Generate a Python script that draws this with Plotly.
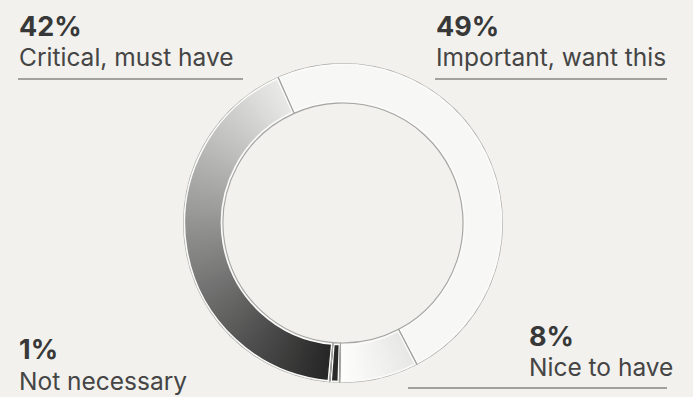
import numpy as np
import plotly.graph_objects as go

# Survey results, listed clockwise around the ring
categories = ["Important, want this", "Nice to have", "Not necessary", "Critical, must have"]
values = [49, 8, 1, 42]
value_labels = ["49%", "8%", "1%", "42%"]

W, H = 693, 397
BG = "#f2f1ed"
INNER, OUTER = 120, 160

# cumulative positions in degrees
deg = np.array(values, dtype=float) * 3.6
ends = np.cumsum(deg)
starts = ends - deg
centers = starts + deg / 2


def hex_to_rgb(h):
    h = h.lstrip("#")
    return np.array([int(h[i:i + 2], 16) for i in (0, 2, 4)], dtype=float)


def ramp(c0, c1, n):
    a, b = hex_to_rgb(c0), hex_to_rgb(c1)
    out = []
    for t in np.linspace(0, 1, n):
        r, g, bb = (a + (b - a) * t).round().astype(int)
        out.append(f"rgb({r},{g},{bb})")
    return out


# fill style for each segment: (start colour, end colour) along the clockwise direction
fills = {
    "Important, want this": ("#f7f7f5", "#f7f7f5"),
    "Nice to have": ("#e7e7e5", "#fdfdfc"),
    "Not necessary": ("#2a2a2a", "#2a2a2a"),
    "Critical, must have": ("#262626", "#e8e8e6"),
}

fig = go.Figure()
pad_r = 1.6        # radial inset of the fill inside the outline
pad_a = 0.55       # angular inset (degrees)

for cat, s, d in zip(categories, starts, deg):
    c0, c1 = fills[cat]
    n = 1 if c0 == c1 else max(int(d / 0.8), 8)
    a0, a1 = s + pad_a, s + d - pad_a
    step = (a1 - a0) / n
    th = a0 + step * (np.arange(n) + 0.5)
    cols = ramp(c0, c1, n)
    # slight overlap between the thin wedges hides antialiasing seams
    wid = np.full(n, step * 1.6)
    if n > 1:
        wid[0] = wid[-1] = step
        th[0], th[-1] = a0 + step / 2, a1 - step / 2
    fig.add_trace(go.Barpolar(
        theta=th, r=[OUTER - INNER - 2 * pad_r] * n, base=INNER + pad_r,
        width=wid,
        marker=dict(color=cols, line=dict(width=0)),
        hoverinfo="skip", showlegend=False,
    ))

# white inner rim of each segment
fig.add_trace(go.Barpolar(
    theta=centers, r=[OUTER - INNER - 2 * pad_r] * 4, base=INNER + pad_r,
    width=deg - 2 * pad_a,
    marker=dict(color="rgba(0,0,0,0)", line=dict(color="#fbfbfa", width=1.4)),
    hoverinfo="skip", showlegend=False,
))
# grey outline of each segment
fig.add_trace(go.Barpolar(
    theta=centers, r=[OUTER - INNER] * 4, base=INNER,
    width=deg,
    marker=dict(color="rgba(0,0,0,0)", line=dict(color="#a4a4a2", width=1.1)),
    hoverinfo="skip", showlegend=False,
))

cx, cy = 343, 223
fig.update_layout(
    width=W, height=H, autosize=False,
    margin=dict(l=0, r=0, t=0, b=0),
    paper_bgcolor=BG, plot_bgcolor=BG,
    showlegend=False,
    polar=dict(
        domain=dict(x=[(cx - OUTER) / W, (cx + OUTER) / W],
                    y=[1 - (cy + OUTER) / H, 1 - (cy - OUTER) / H]),
        bgcolor="rgba(0,0,0,0)",
        radialaxis=dict(range=[0, OUTER], visible=False),
        angularaxis=dict(visible=False, direction="clockwise", rotation=114),
        barmode="overlay",
    ),
)


def py(y):
    return 1 - y / H


# label blocks: (index, x, y of value, y of name, underline)
blocks = [
    (3, 17, 26, 57, (18, 243, 79)),
    (0, 434, 26, 57, (435, 667, 79)),
    (2, 17, 349, 381, None),
    (1, 527, 336, 367, (408, 667, 388)),
]
for i, x, yv, yn, line in blocks:
    fig.add_annotation(x=x / W, y=py(yv), xref="paper", yref="paper",
                       xanchor="left", yanchor="middle", showarrow=False,
                       text=f"<b>{value_labels[i]}</b>",
                       font=dict(family="Inter", size=27, color="#383838"))
    fig.add_annotation(x=x / W, y=py(yn), xref="paper", yref="paper",
                       xanchor="left", yanchor="middle", showarrow=False,
                       text=categories[i],
                       font=dict(family="Inter", size=24.5, color="#454545"))
    if line:
        x0, x1, yl = line
        fig.add_shape(type="line", xref="paper", yref="paper",
                      x0=x0 / W, x1=x1 / W, y0=py(yl), y1=py(yl),
                      line=dict(color="#a2a19e", width=2))

fig.write_html("out.html")
